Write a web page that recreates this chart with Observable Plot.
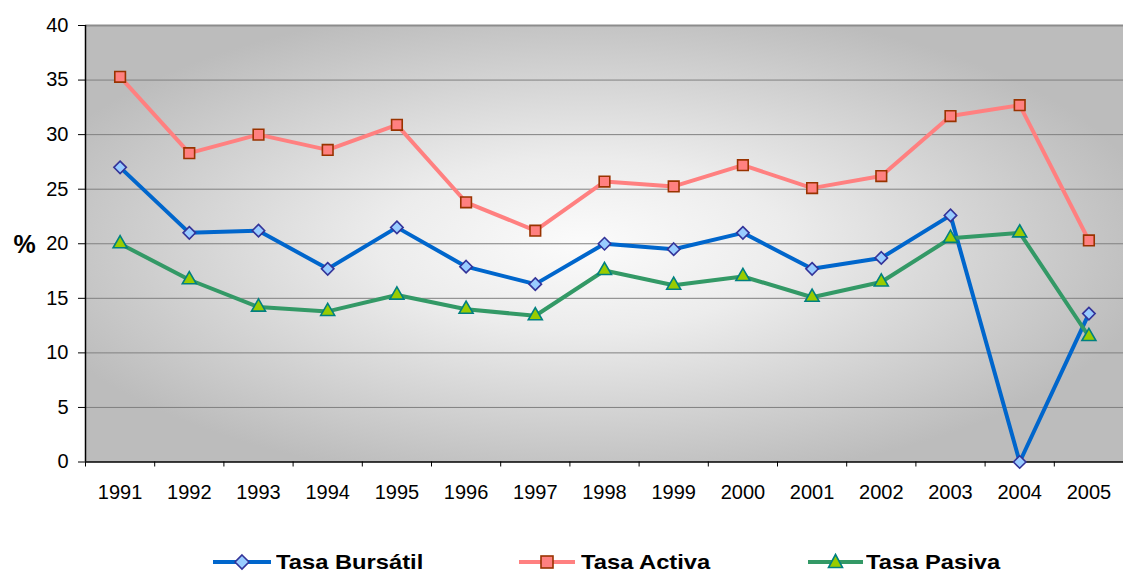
<!DOCTYPE html>
<html>
<head>
<meta charset="utf-8">
<script src="https://cdn.jsdelivr.net/npm/d3@7"></script>
<script src="https://cdn.jsdelivr.net/npm/@observablehq/plot@0.6"></script>
<style>
  html, body { margin: 0; background: #fff; overflow: hidden; font-family: "Liberation Sans", Arial, sans-serif; }
  #chart svg { display: block; }
  #legend { position: relative; width: 1123px; height: 47px; }
  .item { position: absolute; top: 0; height: 47px; }
  .item svg { position: absolute; top: 0; left: 0; }
  .item span {
    position: absolute; top: 24.5px; white-space: nowrap;
    font-weight: bold; font-size: 21px; line-height: 21px; color: #000;
    display: inline-block; transform: scaleX(1.13); transform-origin: left center;
  }
</style>
</head>
<body>
<div id="chart"></div>
<div id="legend"></div>
<script>
const years = [1991, 1992, 1993, 1994, 1995, 1996, 1997, 1998, 1999, 2000, 2001, 2002, 2003, 2004, 2005];
const tasaBursatil = [27.0, 21.0, 21.2, 17.7, 21.5, 17.9, 16.3, 20.0, 19.5, 21.0, 17.7, 18.7, 22.6, 0.0, 13.6];
const tasaActiva   = [35.3, 28.3, 30.0, 28.6, 30.9, 23.8, 21.2, 25.7, 25.25, 27.2, 25.1, 26.2, 31.7, 32.7, 20.3];
const tasaPasiva   = [20.0, 16.7, 14.2, 13.8, 15.3, 14.0, 13.4, 17.55, 16.2, 17.0, 15.1, 16.5, 20.5, 21.0, 11.5];
const yTicks = [0, 5, 10, 15, 20, 25, 30, 35, 40];
const seriesNames = ["Tasa Bursátil", "Tasa Activa", "Tasa Pasiva"];
const yLabel = "%";

const series = [
  {name: seriesNames[0], values: tasaBursatil, line: "#0066cc", fill: "#99ccff", stroke: "#333399", symbol: "diamond2", r: 5.6},
  {name: seriesNames[1], values: tasaActiva,   line: "#ff8080", fill: "#ff8080", stroke: "#993300", symbol: "square",   r: 6.0},
  {name: seriesNames[2], values: tasaPasiva,   line: "#339966", fill: "#99cc00", stroke: "#008080", symbol: "triangle", r: 5.2}
];

const marks = [
  Plot.frame({fill: "url(#bgGrad)", stroke: null}),
  Plot.gridY(yTicks.filter(d => d > 0 && d < 40), {stroke: "#808080", strokeOpacity: 1, strokeWidth: 1}),
  Plot.ruleY([40], {stroke: "#8c8c8c", strokeWidth: 2}),
  Plot.ruleX([1990.5], {stroke: "#000", strokeWidth: 1.5}),
  Plot.ruleY([0], {stroke: "#000", strokeWidth: 1.5}),
  Plot.axisY({ticks: yTicks, tickSize: 7, tickPadding: 10, fontSize: 20, label: null, tickFormat: d => String(d)}),
  Plot.axisX({ticks: d3.range(1990.5, 2006, 1), tickSize: 5, tickFormat: () => "", label: null}),
  Plot.axisX({ticks: years, tickSize: 0, tickPadding: 23, fontSize: 20, label: null, tickFormat: d => String(d)}),
  Plot.text([yLabel], {frameAnchor: "left", dx: -61, dy: 1, text: d => d, fontSize: 25, fontWeight: "bold", fill: "#000", textAnchor: "middle"})
];

for (const s of series) {
  const rows = years.map((year, i) => ({year, value: s.values[i]}));
  marks.push(Plot.line(rows, {x: "year", y: "value", stroke: s.line, strokeWidth: 4}));
  marks.push(Plot.dot(rows, {x: "year", y: "value", symbol: s.symbol, r: s.r, fill: s.fill, stroke: s.stroke, strokeWidth: 1.6}));
}

const svg = Plot.plot({
  width: 1123,
  height: 526,
  marginLeft: 85,
  marginRight: 0,
  marginTop: 25,
  marginBottom: 64.5,
  style: {fontFamily: "'Liberation Sans', Arial, sans-serif", color: "#000", background: "#fff"},
  x: {type: "linear", domain: [1990.5, 2005.5]},
  y: {domain: [0, 40]},
  marks
});

const ns = "http://www.w3.org/2000/svg";
const defs = document.createElementNS(ns, "defs");
defs.innerHTML = `<radialGradient id="bgGrad" cx="0.48" cy="0.5" r="0.56" gradientUnits="objectBoundingBox">
  <stop offset="0" stop-color="#fbfbfb"/>
  <stop offset="0.35" stop-color="#ececec"/>
  <stop offset="1" stop-color="#bcbcbc"/>
</radialGradient>`;
svg.insertBefore(defs, svg.firstChild);
document.getElementById("chart").appendChild(svg);

// Legend (HTML below the SVG)
const legendPos = [
  {lineX1: 213, lineX2: 271, textX: 276},
  {lineX1: 519, lineX2: 575, textX: 581},
  {lineX1: 808, lineX2: 863, textX: 866}
];
const legend = document.getElementById("legend");
series.forEach((s, i) => {
  const p = legendPos[i];
  const item = document.createElement("div");
  item.className = "item";
  item.style.left = "0px";
  item.style.width = "1123px";
  const cx = (p.lineX1 + p.lineX2) / 2, cy = 36;
  let marker;
  if (s.symbol === "diamond2") {
    marker = `<path d="M${cx},${cy-7}L${cx+7},${cy}L${cx},${cy+7}L${cx-7},${cy}Z" fill="${s.fill}" stroke="${s.stroke}" stroke-width="1.6"/>`;
  } else if (s.symbol === "square") {
    marker = `<rect x="${cx-6}" y="${cy-6}" width="12" height="12" fill="${s.fill}" stroke="${s.stroke}" stroke-width="1.6"/>`;
  } else {
    marker = `<path d="M${cx},${cy-7.5}L${cx+7},${cy+5.5}L${cx-7},${cy+5.5}Z" fill="${s.fill}" stroke="${s.stroke}" stroke-width="1.6"/>`;
  }
  item.innerHTML = `<svg width="1123" height="47"><line x1="${p.lineX1}" x2="${p.lineX2}" y1="${cy}" y2="${cy}" stroke="${s.line}" stroke-width="4"/>${marker}</svg><span style="left:${p.textX}px">${s.name}</span>`;
  legend.appendChild(item);
});
</script>
</body>
</html>
